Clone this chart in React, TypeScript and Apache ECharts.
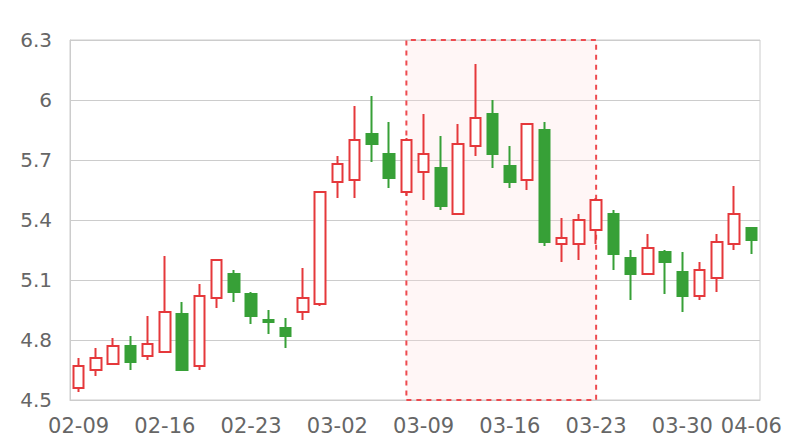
import React, { useEffect, useRef } from "react";
import * as echarts from "echarts";

const dates = [
  "02-09", "02-10", "02-11", "02-12", "02-13",
  "02-16", "02-17", "02-18", "02-19", "02-20",
  "02-23", "02-24", "02-25", "02-26", "02-27",
  "03-02", "03-03", "03-04", "03-05", "03-06",
  "03-09", "03-10", "03-11", "03-12", "03-13",
  "03-16", "03-17", "03-18", "03-19", "03-20",
  "03-23", "03-24", "03-25", "03-26", "03-27",
  "03-30", "03-31", "04-01", "04-02", "04-06",
];

const opens = [
  4.56, 4.65, 4.68, 4.77, 4.72, 4.74, 4.93, 4.67, 5.01, 5.13,
  5.03, 4.90, 4.86, 4.94, 4.98, 5.59, 5.60, 5.83, 5.73, 5.54,
  5.64, 5.66, 5.43, 5.77, 5.93, 5.67, 5.60, 5.85, 5.28, 5.28,
  5.35, 5.43, 5.21, 5.13, 5.24, 5.14, 5.02, 5.11, 5.28, 5.36,
];
const closes = [
  4.67, 4.71, 4.77, 4.69, 4.78, 4.94, 4.65, 5.02, 5.20, 5.04,
  4.92, 4.89, 4.82, 5.01, 5.54, 5.68, 5.80, 5.78, 5.61, 5.80,
  5.73, 5.47, 5.78, 5.91, 5.73, 5.59, 5.88, 5.29, 5.31, 5.40,
  5.50, 5.23, 5.13, 5.26, 5.19, 5.02, 5.15, 5.29, 5.43, 5.30,
];
const lows = [
  4.54, 4.62, 4.68, 4.65, 4.70, 4.74, 4.65, 4.65, 4.96, 4.99,
  4.88, 4.83, 4.76, 4.90, 4.97, 5.51, 5.51, 5.69, 5.56, 5.52,
  5.50, 5.45, 5.43, 5.72, 5.66, 5.56, 5.55, 5.27, 5.19, 5.20,
  5.28, 5.15, 5.00, 5.13, 5.03, 4.94, 5.00, 5.04, 5.25, 5.23,
];
const highs = [
  4.71, 4.76, 4.81, 4.82, 4.92, 5.22, 4.99, 5.08, 5.20, 5.15,
  5.04, 4.95, 4.91, 5.16, 5.54, 5.72, 5.97, 6.02, 5.89, 5.81,
  5.93, 5.82, 5.88, 6.18, 6.00, 5.77, 5.88, 5.89, 5.41, 5.43,
  5.51, 5.45, 5.25, 5.33, 5.25, 5.24, 5.19, 5.33, 5.57, 5.36,
];

const tickLabels = ["02-09", "02-16", "02-23", "03-02", "03-09", "03-16", "03-23", "03-30", "04-06"];
const highlightRange = ["03-06", "03-23"];

const yMin = 4.5;
const yMax = 6.3;
const yStep = 0.3;

const RED = "#e5383b";
const GREEN = "#37a037";

export default function App() {
  const ref = useRef<HTMLDivElement>(null);
  useEffect(() => {
    if (!ref.current) return;
    const chart = echarts.init(ref.current, undefined, { renderer: "svg" });
    const data = dates.map((_, i) => [opens[i], closes[i], lows[i], highs[i]]);
    chart.setOption({
      animation: false,
      grid: {
        left: 70,
        right: 40,
        top: 40,
        bottom: 40,
        show: true,
        borderColor: "#cccccc",
        borderWidth: 1,
      },
      xAxis: {
        type: "category",
        data: dates,
        boundaryGap: true,
        axisLine: { show: true, lineStyle: { color: "#cccccc" } },
        axisTick: { show: false },
        axisLabel: {
          interval: (_i: number, v: string) => tickLabels.includes(v),
          color: "#666666",
          fontSize: 21,
          fontFamily: "DejaVu Sans",
          margin: 15,
        },
        splitLine: { show: false },
      },
      yAxis: {
        type: "value",
        min: yMin,
        max: yMax,
        interval: yStep,
        axisLine: { show: true, lineStyle: { color: "#cccccc" } },
        axisTick: { show: false },
        axisLabel: {
          color: "#666666",
          fontSize: 20,
          fontFamily: "DejaVu Sans",
          margin: 18,
          formatter: (v: number) => String(Math.round(v * 10) / 10),
        },
        splitLine: { show: true, lineStyle: { color: "#cccccc" } },
      },
      series: [
        {
          type: "candlestick",
          data,
          barWidth: 11,
          itemStyle: {
            color: "#ffffff",
            color0: GREEN,
            borderColor: RED,
            borderColor0: GREEN,
            borderWidth: 2,
          },
          markArea: {
            silent: true,
            itemStyle: {
              color: "rgba(255, 220, 220, 0.25)",
              borderColor: "#ee4a4f",
              borderWidth: 2,
              borderType: [5, 5],
            },
            data: [[{ xAxis: highlightRange[0] }, { xAxis: highlightRange[1] }]],
          },
        },
      ],
    });
    return () => chart.dispose();
  }, []);
  return (
    <div
      ref={ref}
      style={{ position: "absolute", left: 0, top: 0, width: 800, height: 440 }}
    />
  );
}
